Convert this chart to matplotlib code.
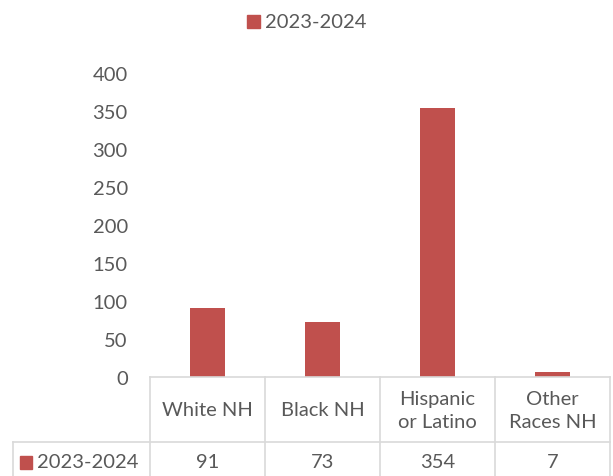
import matplotlib.pyplot as plt
from matplotlib.lines import Line2D
from matplotlib.patches import Rectangle

categories = ['White NH', 'Black NH', 'Hispanic\nor Latino', 'Other\nRaces NH']
values = [91, 73, 354, 7]
series_name = '2023-2024'
yticks = [0, 50, 100, 150, 200, 250, 300, 350, 400]

bar_color = '#C0504D'
text_color = '#595959'
grid_color = '#D9D9D9'
fs = 14.5
plt.rcParams['font.family'] = ['Lato', 'DejaVu Sans']

W, H = 613, 477
fig = plt.figure(figsize=(W / 100, H / 100), dpi=100)

# plot area in pixel coords
x0, x1 = 150, 610
y_zero, y_top = 378, 74
ax = fig.add_axes([x0 / W, (H - y_zero) / H, (x1 - x0) / W, (y_zero - y_top) / H])

xs = range(len(categories))
ax.bar(xs, values, width=0.31, color=bar_color)
ax.set_xlim(-0.5, len(categories) - 0.5)
ax.set_ylim(0, 400)
ax.set_yticks(yticks)
ax.set_xticks([])
ax.tick_params(axis='y', length=0, labelsize=fs, labelcolor=text_color, pad=16)
for s in ax.spines.values():
    s.set_visible(False)

# data table below the axis (figure pixel coords)
def px_line(xa, ya, xb, yb):
    fig.add_artist(Line2D([xa / W, xb / W], [1 - ya / H, 1 - yb / H],
                          color=grid_color, lw=1.2, transform=fig.transFigure))

row1_bot = 443
col_edges = [150 + i * 115 for i in range(len(categories) + 1)]
px_line(150, y_zero, 610, y_zero)
px_line(13, row1_bot, 610, row1_bot)
for xe in col_edges:
    px_line(xe, y_zero, xe, H)
px_line(13, row1_bot, 13, H)

for i, (cat, v) in enumerate(zip(categories, values)):
    cx = (col_edges[i] + col_edges[i + 1]) / 2
    fig.text(cx / W, 1 - 411 / H, cat, ha='center', va='center', fontsize=fs,
             color=text_color, linespacing=1.45)
    fig.text(cx / W, 1 - 463 / H, str(v), ha='center', va='center', fontsize=fs,
             color=text_color)

fig.add_artist(Rectangle((20 / W, 1 - 470 / H), 12 / W, 13 / H, color=bar_color,
                         transform=fig.transFigure))
fig.text(37 / W, 1 - 463 / H, series_name, ha='left', va='center', fontsize=fs,
         color=text_color)

# legend at top
fig.add_artist(Rectangle((247 / W, 1 - 29 / H), 13 / W, 13 / H, color=bar_color,
                         transform=fig.transFigure))
fig.text(265 / W, 1 - 22 / H, series_name, ha='left', va='center', fontsize=fs,
         color=text_color)

fig.savefig('out.png', dpi=100)
